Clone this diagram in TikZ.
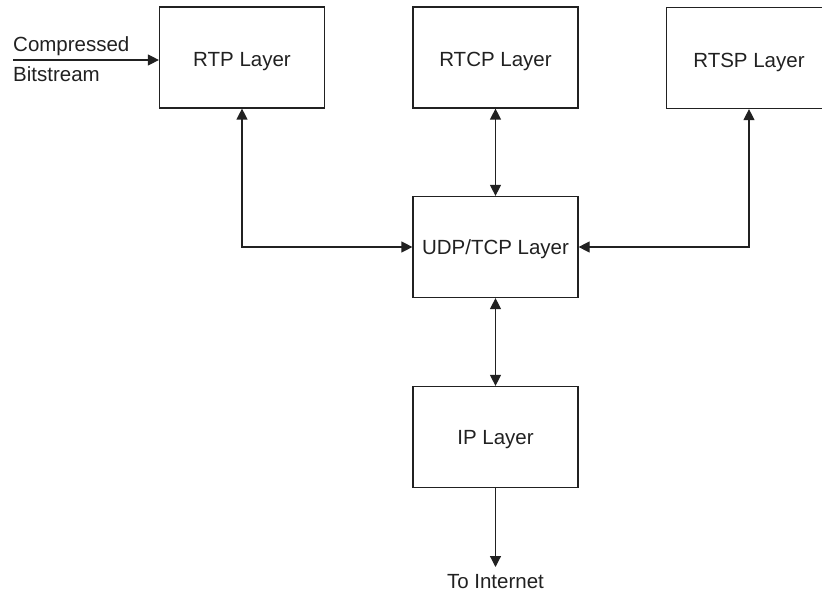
\documentclass[tikz,border=0pt]{standalone}
\usepackage{fontspec}
\setmainfont{Liberation Sans}
\usetikzlibrary{arrows.meta}
\definecolor{ink}{gray}{0.13}
\begin{document}
\begin{tikzpicture}[x=1pt,y=-1pt,
  layer/.style={draw=ink, line width=1.2pt, minimum width=165pt, minimum height=101pt,
    inner sep=0pt, text height=14.5pt, text depth=0pt,
    font=\fontsize{20.5}{24}\selectfont, text=ink},
  toplayer/.style={layer, text height=19pt},
  lbl/.style={inner sep=0pt, font=\fontsize{20.5}{24}\selectfont, text=ink},
  link/.style={draw=ink, line width=1.2pt},
  tip/.style={-{Triangle[length=11pt,width=11pt]}},
  tips/.style={{Triangle[length=11pt,width=11pt]}-{Triangle[length=11pt,width=11pt]}}]
\useasboundingbox (0,0) rectangle (822,593);

% protocol layers
\node[toplayer] (rtp)  at (242,57.5) {RTP Layer};
\node[toplayer] (rtcp) at (495.5,57.5) {RTCP Layer};
\node[toplayer] (rtsp) at (749,58) {RTSP Layer};
\node[layer] (udp)  at (495.5,247) {UDP/TCP Layer};
\node[layer] (ip)   at (495.5,437) {IP Layer};

% input and output labels
\node[lbl, anchor=base west] (comp) at (13,52) {Compressed};
\node[lbl, anchor=base west] (bits) at (13,82) {Bitstream};
\coordinate (src) at (13,60);
\node[lbl] (net) at (495.5,582) {To Internet};

% connectors
\draw[link, tip] (src) -- (rtp.west |- src);
\draw[link, tips] (rtp.south) |- (udp.west);
\draw[link, tips] (rtcp.south) -- (udp.north);
\draw[link, tips] (rtsp.south) |- (udp.east);
\draw[link, tips] (udp.south) -- (ip.north);
\draw[link, tip] (ip.south) -- (net.north |- 0,567);
\end{tikzpicture}
\end{document}
